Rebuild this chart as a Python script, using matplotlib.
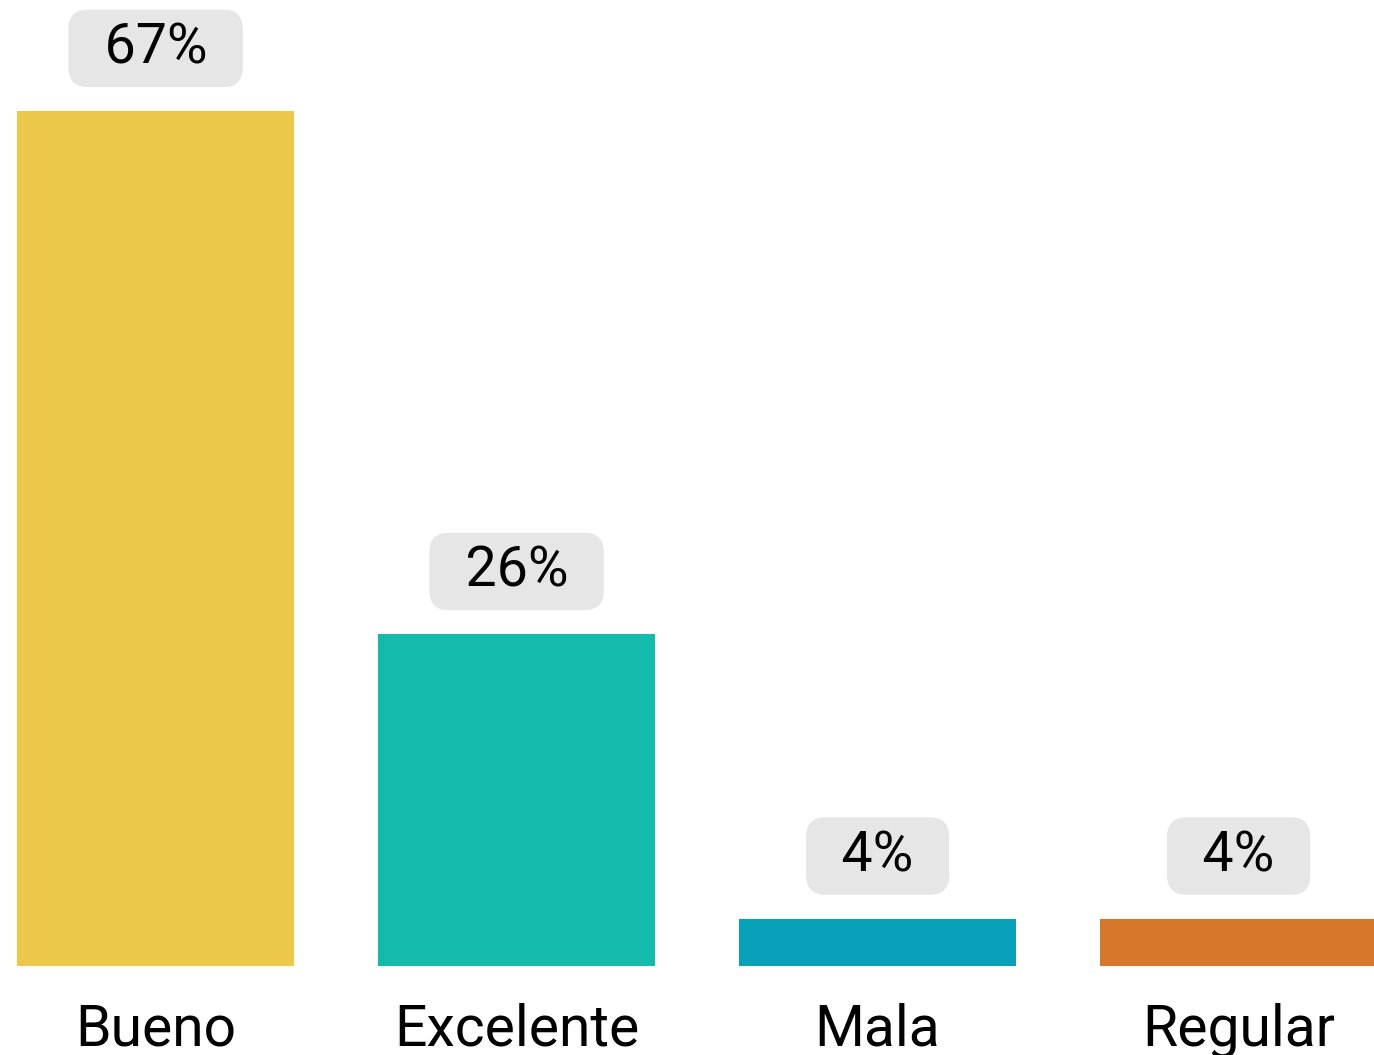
import matplotlib.pyplot as plt
import numpy as np

categories = ["Bueno", "Excelente", "Mala", "Regular"]
percents = [66.7, 25.9, 3.7, 3.7]
labels = ["67%", "26%", "4%", "4%"]
colors = ["#ECC84A", "#15BBAA", "#07A2BA", "#D5782B"]

plt.rcParams['font.family'] = ['Roboto', 'DejaVu Sans']

fig = plt.figure(figsize=(13.74, 10.55), dpi=100)
ax = fig.add_axes([0, 89 / 1055, 1, 966 / 1055])

x = np.arange(len(categories))
ax.bar(x, percents, width=0.767, color=colors)

side = '\u2005\u2006'
for xi, h, lab in zip(x, percents, labels):
    ax.annotate(side + lab + side, xy=(xi, h), xytext=(0, 45), textcoords='offset points',
                ha='center', va='center', fontsize=40, color='black',
                bbox=dict(boxstyle='round,pad=0.22,rounding_size=0.35', fc='#e6e6e6', ec='none'))

ax.set_xlim(-0.431, 3.375)
ax.set_ylim(0, 75.35)
ax.set_xticks(x)
ax.set_xticklabels(categories, fontsize=41)
ax.tick_params(axis='x', length=0, pad=26)
ax.set_yticks([])
for s in ax.spines.values():
    s.set_visible(False)

plt.savefig("out.png", dpi=100)
